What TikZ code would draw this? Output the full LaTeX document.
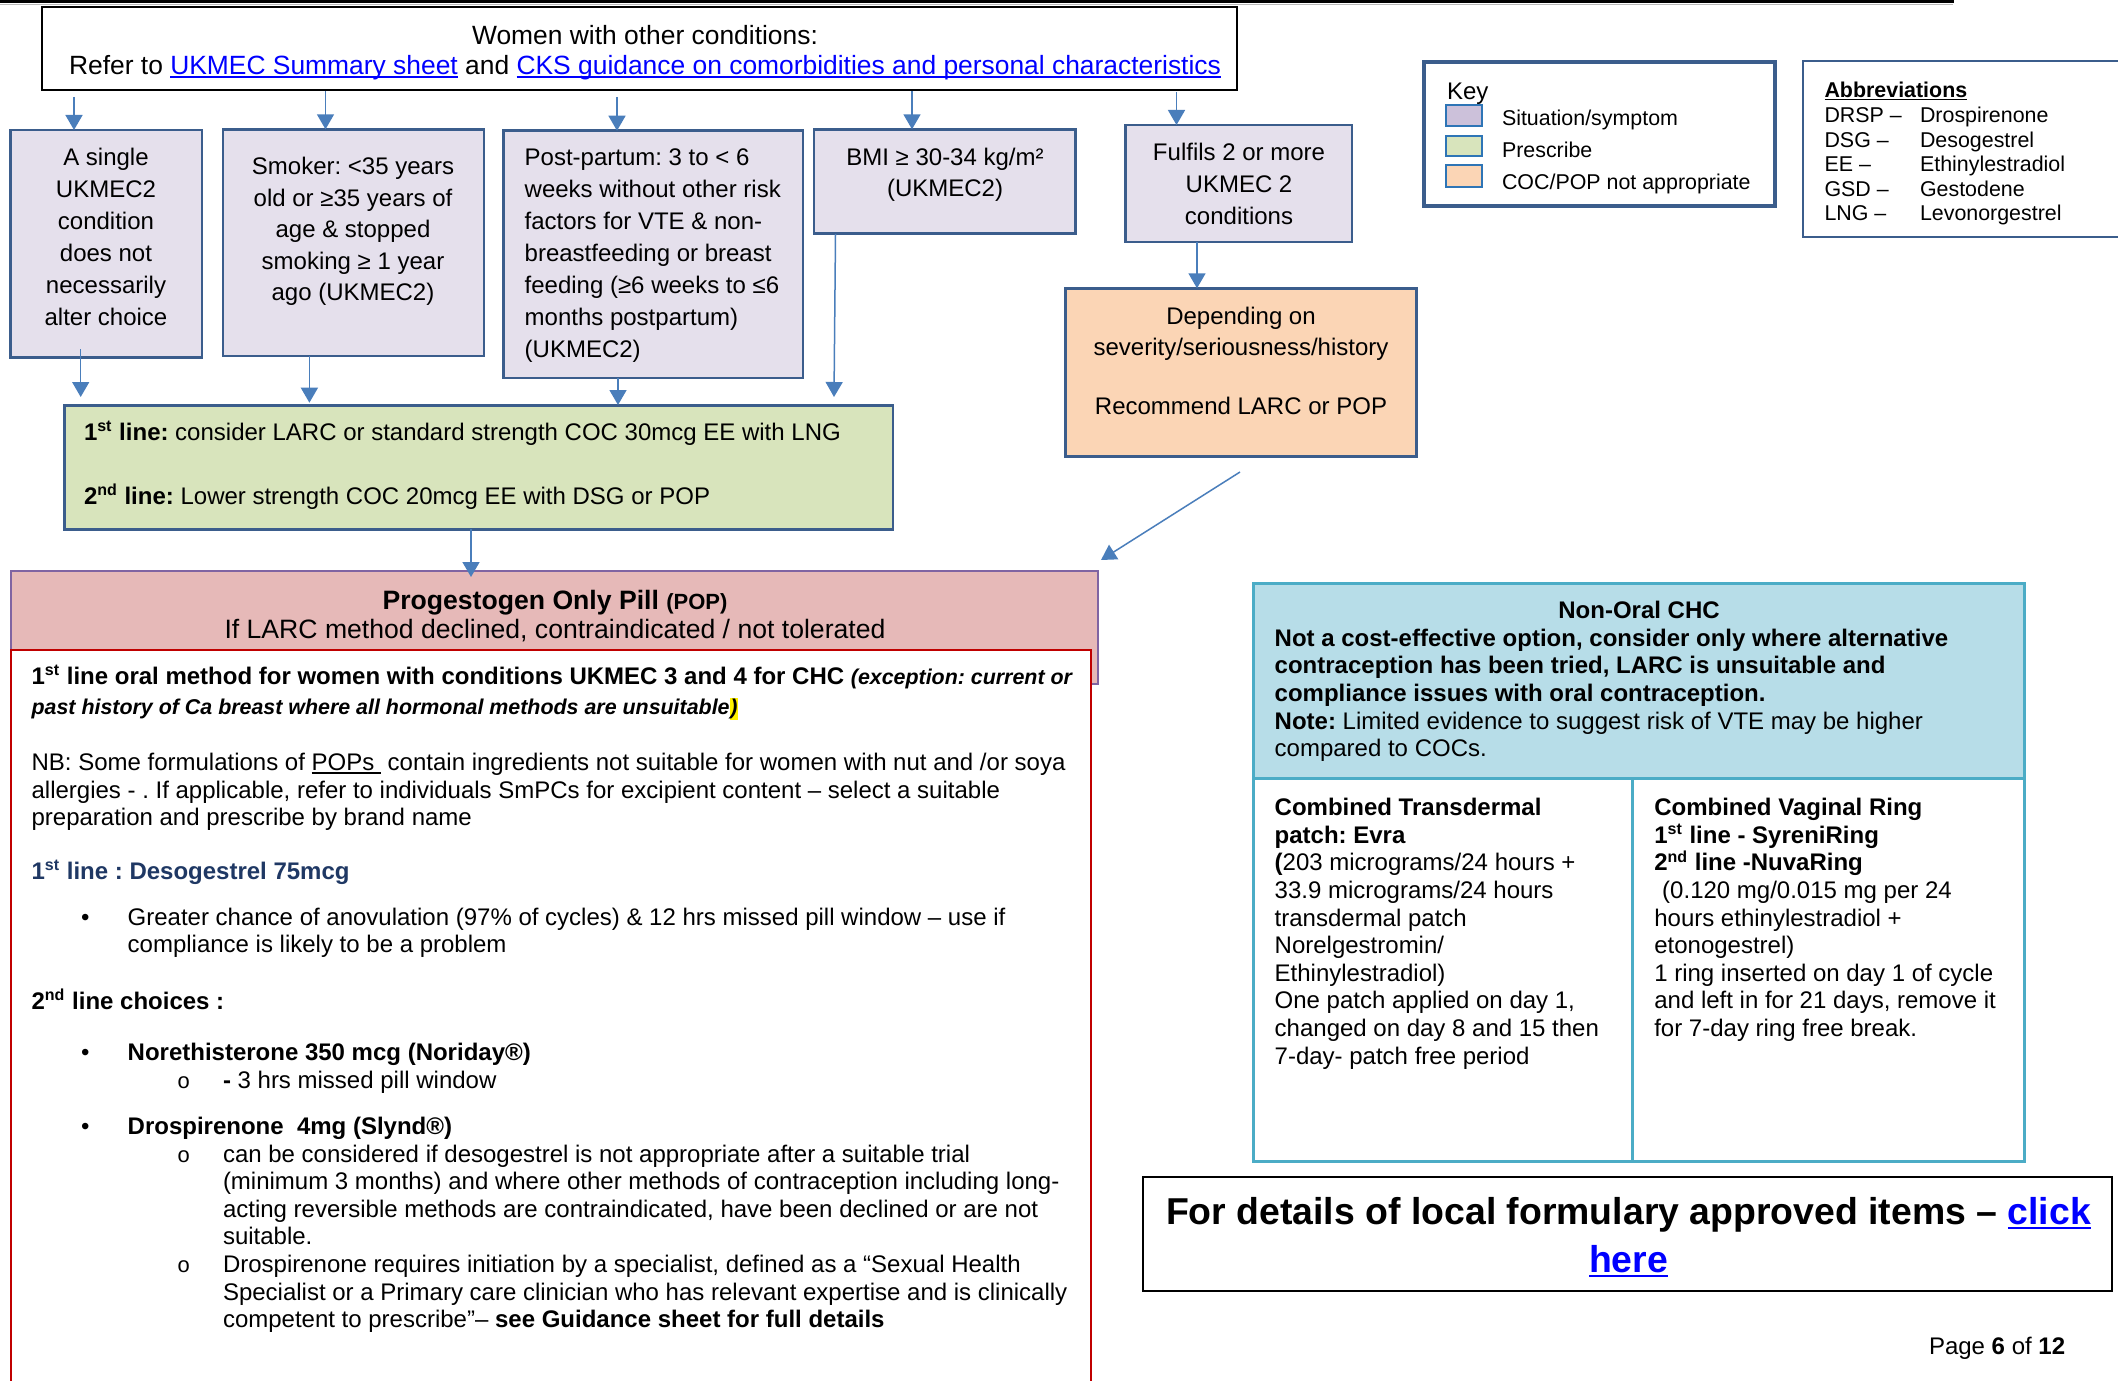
\documentclass[tikz,border=0pt]{standalone}
\usepackage{fontspec}
\setmainfont{Liberation Sans}
\newfontfamily\monof{Liberation Mono}
\usetikzlibrary{arrows.meta,fit}
\frenchspacing
\definecolor{purpfill}{HTML}{E5E0EC}
\definecolor{purpsw}{HTML}{CCC1DA}
\definecolor{greenfill}{HTML}{D8E4BC}
\definecolor{orangefill}{HTML}{FBD5B5}
\definecolor{pinkfill}{HTML}{E6B9B8}
\definecolor{bluefill}{HTML}{B7DDE8}
\definecolor{bbord}{HTML}{3B5D8C}
\definecolor{arrc}{HTML}{4A7EBB}
\definecolor{swbord}{HTML}{2E75B6}
\definecolor{pinkbord}{HTML}{8064A2}
\definecolor{redc}{HTML}{C00000}
\definecolor{chcbord}{HTML}{4BACC6}
\definecolor{darkblue}{HTML}{1F3864}
\definecolor{linkc}{HTML}{0000FF}
\newcommand\fs[2]{\fontsize{#1}{#2}\selectfont\frenchspacing}
\newcommand\PL[2]{\parbox[t]{#1}{\raggedright #2}}
\newcommand\PC[2]{\parbox[t]{#1}{\centering #2}}
\newsavebox\ulbox
\newcommand\uln[1]{\sbox\ulbox{#1}\rlap{\usebox\ulbox}\rule[-0.13em]{\wd\ulbox}{0.065em}}
\newcommand\lnk[1]{\textcolor{linkc}{\uln{#1}}}
\newcommand\hl[1]{{\setlength\fboxsep{0.4pt}\colorbox{yellow}{#1}}}
\begin{document}
\begin{tikzpicture}[x=0.5pt,y=-0.5pt,
  tl/.style={anchor=base west, inner sep=0pt, outer sep=0pt, yshift=-1.3pt},
  tc/.style={anchor=base, inner sep=0pt, outer sep=0pt, yshift=-1.3pt},
  boxbase/.style={rectangle, inner sep=0pt, outer sep=0pt},
  purp/.style={boxbase, draw=bbord, line width=1.25pt, fill=purpfill},
  grn/.style={boxbase, draw=bbord, line width=1.25pt, fill=greenfill},
  orng/.style={boxbase, draw=bbord, line width=1.25pt, fill=orangefill},
  swatch/.style={boxbase, draw=swbord, line width=1.3pt},
  arr/.style={draw=arrc, line width=0.75pt, -{Triangle[length=7.5pt,width=8.5pt]}},
]
\useasboundingbox (0,0) rectangle (2118,1380);
\fill[white] (0,0) rectangle (2118,1380);

% top rule (edge of box above)
\draw[gray!55, line width=0.6pt] (-10,4.5) -- (1953,4.5);
\draw[black, line width=1.5pt] (-10,1.5) -- (1952,1.5) -- (1952,-10);

% top box
\node[boxbase, draw=black, line width=0.8pt, fill=white, fit={(42,7) (1237,90)}] (top) {};
\node[tc] (topt1) at (645,41.7) {\fs{13.2}{16}Women with other conditions:};
\node[tc] (topt2) at (645,71.7) {\fs{13.2}{16}Refer to \lnk{UKMEC Summary sheet} and \lnk{CKS guidance on comorbidities and personal characteristics}};

% situation boxes
\node[purp, fit={(10.5,130) (202,357.7)}] (bA) {};
\node[tc] (tA) at (106,163) {\PC{150pt}{\fs{12}{16}A single\\UKMEC2\\condition\\does not\\necessarily\\alter choice}};

\node[purp, fit={(223,129.3) (484,356)}] (bB) {};
\node[tc] (tB) at (353,172) {\PC{200pt}{\fs{12}{15.8}Smoker: <35 years\\old or ≥35 years of\\age \& stopped\\smoking ≥ 1 year\\ago (UKMEC2)}};

\node[purp, fit={(503.7,130.7) (803.2,378)}] (bC) {};
\node[tl] (tC) at (524.7,163) {\PL{200pt}{\fs{12}{16}Post-partum: 3 to < 6\\weeks without other risk\\factors for VTE \& non-\\breastfeeding or breast\\feeding (≥6 weeks to ≤6\\months postpartum)\\(UKMEC2)}};

\node[purp, fit={(813.8,129.3) (1075.4,233.3)}] (bD) {};
\node[tc] (tD) at (945,162.7) {\PC{200pt}{\fs{12}{15.65}BMI ≥ 30-34 kg/m²\\(UKMEC2)}};

\node[purp, fit={(1125.5,125) (1352,242)}] (bE) {};
\node[tc] (tE) at (1239,158) {\PC{200pt}{\fs{12}{15.9}Fulfils 2 or more\\UKMEC 2\\conditions}};

% orange box
\node[orng, fit={(1065.4,288.3) (1416.3,456.7)}] (bO) {};
\node[tc] (tO1) at (1241,321.7) {\PC{250pt}{\fs{12}{15.65}Depending on\\severity/seriousness/history}};
\node[tc] (tO2) at (1241,411.7) {\fs{12}{15}Recommend LARC or POP};

% green box
\node[grn, fit={(64.5,405.7) (893,529.3)}] (bG) {};
\node[tl] (tG1) at (84,438) {\fs{12}{15}\textbf{1\textsuperscript{st} line:} consider LARC or standard strength COC 30mcg EE with LNG};
\node[tl] (tG2) at (84,501.7) {\fs{12}{15}\textbf{2\textsuperscript{nd} line:} Lower strength COC 20mcg EE with DSG or POP};

% key
\node[boxbase, draw=bbord, line width=2.2pt, fill=white, fit={(1424,62) (1775,206)}] (key) {};
\node[tl] (keyt) at (1447,96.7) {\fs{12}{14}Key};
\node[swatch, fill=purpsw, fit={(1446,105) (1482,126)}] (sw1) {};
\node[swatch, fill=greenfill, fit={(1446,136) (1482,156)}] (sw2) {};
\node[swatch, fill=orangefill, fit={(1446,165) (1482,187)}] (sw3) {};
\node[tl] (kl1) at (1502,123) {\fs{10.7}{13}Situation/symptom};
\node[tl] (kl2) at (1502,155) {\fs{10.7}{13}Prescribe};
\node[tl] (kl3) at (1502,186.7) {\fs{10.7}{13}COC/POP not appropriate};

% abbreviations
\node[boxbase, draw=bbord, line width=1.2pt, fill=white, fit={(1803,61) (2140,237)}] (abbr) {};
\node[tl] (abt) at (1824.5,95) {\fs{10.7}{13}\textbf{\uln{Abbreviations}}};
\node[tl] (ab1) at (1824.5,120) {\PL{50pt}{\fs{10.7}{12.3}DRSP –\\DSG –\\EE –\\GSD –\\LNG –}};
\node[tl] (ab2) at (1920,120) {\PL{100pt}{\fs{10.7}{12.3}Drospirenone\\Desogestrel\\Ethinylestradiol\\Gestodene\\Levonorgestrel}};

% POP header and body
\node[boxbase, draw=pinkbord, line width=1pt, fill=pinkfill, fit={(11,570.7) (1098,684)}] (pophead) {};
\node[boxbase, draw=redc, line width=1.1pt, fill=white, fit={(11,650) (1091,1400)}] (popbody) {};
\node[tc] (poph1) at (555,606.7) {\fs{13.3}{16}\textbf{Progestogen Only Pill {\fs{11}{13}(POP)}}};
\node[tc] (poph2) at (555,636) {\fs{13.3}{16}If LARC method declined, contraindicated / not tolerated};

\node[tl] (p1) at (31.6,681.7) {\fs{12}{14}\textbf{1\textsuperscript{st} line oral method for women with conditions UKMEC 3 and 4 for CHC} {\fs{10.7}{13}\bfseries\itshape(exception: current or}};
\node[tl] (p2) at (31.6,711.7) {\fs{10.7}{13}\bfseries\itshape past history of Ca breast where all hormonal methods are unsuitable\hl{)}};
\node[tl] (p3) at (31.6,768.3) {\PL{560pt}{\fs{12}{13.75}NB: Some formulations of \uln{POPs\ }\ contain ingredients not suitable for women with nut and /or soya\\allergies - . If applicable, refer to individuals SmPCs for excipient content – select a suitable\\preparation and prescribe by brand name}};
\node[tl] (p4) at (31.6,876.7) {\fs{12}{14}\textcolor{darkblue}{\textbf{1\textsuperscript{st} line : Desogestrel 75mcg}}};
\node[tl] (bul1) at (81,923.3) {\fs{12}{14}•};
\node[tl] (p5) at (127.7,923.3) {\PL{500pt}{\fs{12}{13.35}Greater chance of anovulation (97\% of cycles) \& 12 hrs missed pill window – use if\\compliance is likely to be a problem}};
\node[tl] (p6) at (31.6,1006.7) {\fs{12}{14}\textbf{2\textsuperscript{nd} line choices :}};
\node[tl] (bul2) at (81,1058.3) {\fs{12}{14}•};
\node[tl] (p7) at (127.7,1058.3) {\fs{12}{14}\textbf{Norethisterone 350 mcg (Noriday®)}};
\node[tl] (sb1) at (177,1086) {\fs{11}{14}\monof o};
\node[tl] (p8) at (223,1086) {\fs{12}{14}\textbf{-} 3 hrs missed pill window};
\node[tl] (bul3) at (81,1131.7) {\fs{12}{14}•};
\node[tl] (p9) at (127.7,1131.7) {\fs{12}{14}\textbf{Drospirenone\ \ 4mg (Slynd®)}};
\node[tl] (sb2) at (177,1160) {\fs{11}{14}\monof o};
\node[tl] (p10) at (223,1160) {\PL{480pt}{\fs{12}{13.6}can be considered if desogestrel is not appropriate after a suitable trial\\(minimum 3 months) and where other methods of contraception including long-\\acting reversible methods are contraindicated, have been declined or are not\\suitable.}};
\node[tl] (sb3) at (177,1270) {\fs{11}{14}\monof o};
\node[tl] (p11) at (223,1270) {\PL{480pt}{\fs{12}{13.75}Drospirenone requires initiation by a specialist, defined as a “Sexual Health\\Specialist or a Primary care clinician who has relevant expertise and is clinically\\competent to prescribe”– \textbf{see Guidance sheet for full details}}};

% Non-oral CHC
\node[boxbase, draw=chcbord, line width=1.5pt, fill=bluefill, fit={(1253,583) (2024,778.6)}] (chc) {};
\node[boxbase, draw=chcbord, line width=1.5pt, fill=white, fit={(1253,778.6) (1632,1161)}] (patch) {};
\node[boxbase, draw=chcbord, line width=1.5pt, fill=white, fit={(1632,778.6) (2024,1161)}] (ring) {};
\node[tc] (chct) at (1639,616) {\fs{12}{14}\textbf{Non-Oral CHC}};
\node[tl] (chc1) at (1274.7,643.5) {\PL{380pt}{\fs{12}{13.85}\textbf{Not a cost-effective option, consider only where alternative\\contraception has been tried, LARC is unsuitable and\\compliance issues with oral contraception.}\\\textbf{Note:} Limited evidence to suggest risk of VTE may be higher\\compared to COCs.}};
\node[tl] (patcht) at (1274.7,813) {\PL{185pt}{\fs{12}{13.8}\textbf{Combined Transdermal}\\\textbf{patch: Evra}\\\textbf{(}203 micrograms/24 hours +\\33.9 micrograms/24 hours\\transdermal patch\\Norelgestromin/\\Ethinylestradiol)\\One patch applied on day 1,\\changed on day 8 and 15 then\\7-day- patch free period}};
\node[tl] (ringt) at (1654.3,813) {\PL{190pt}{\fs{12}{13.8}\textbf{Combined Vaginal Ring}\\\textbf{1\textsuperscript{st} line - SyreniRing}\\\textbf{2\textsuperscript{nd} line -NuvaRing}\\\hspace*{0.33em}(0.120 mg/0.015 mg per 24\\hours ethinylestradiol +\\etonogestrel)\\1 ring inserted on day 1 of cycle\\and left in for 21 days, remove it\\for 7-day ring free break.}};

% bottom box
\node[boxbase, draw=black, line width=1.2pt, fill=white, fit={(1143,1177) (2112,1291)}] (form) {};
\node[tc] (form1) at (1628.5,1221.7) {\fs{18.7}{24}\textbf{For details of local formulary approved items – \lnk{click}}};
\node[tc] (form2) at (1628.5,1270) {\fs{18.7}{24}\textbf{\lnk{here}}};

\node[tl] (page) at (1929,1351.7) {\fs{12}{14}Page \textbf{6} of \textbf{12}};

% connectors
\coordinate (s1) at (74,97);
\coordinate (s2) at (325.5,91);
\coordinate (s3) at (617,97);
\coordinate (s4) at (912,91);
\coordinate (s5) at (1176.5,92);
\draw[arr] (s1) -- (s1 |- bA.north);
\draw[arr] (s2) -- (s2 |- bB.north);
\draw[arr] (s3) -- (s3 |- bC.north);
\draw[arr] (s4) -- (s4 |- bD.north);
\draw[arr] (s5) -- (s5 |- bE.north);

\coordinate (e1) at (80.7,397);
\coordinate (e2) at (309.4,402.7);
\coordinate (e3) at (618,405);
\coordinate (e4) at (834,397);
\coordinate (s6) at (80.7,349);
\coordinate (s9) at (835.5,234);
\draw[arr] (s6) -- (e1);
\draw[arr] (e2 |- bB.south) -- (e2);
\draw[arr] (e3 |- bC.south) -- (e3);
\draw[arr] (s9) -- (e4);
\draw[arr] (bE.south -| 1197,0) -- (bO.north -| 1197,0);
\coordinate (e5) at (471,577);
\draw[arr] (e5 |- bG.south) -- (e5);
\coordinate (s7) at (1240,472);
\coordinate (e7) at (1101,560);
\draw[arr] (s7) -- (e7);
\end{tikzpicture}
\end{document}
